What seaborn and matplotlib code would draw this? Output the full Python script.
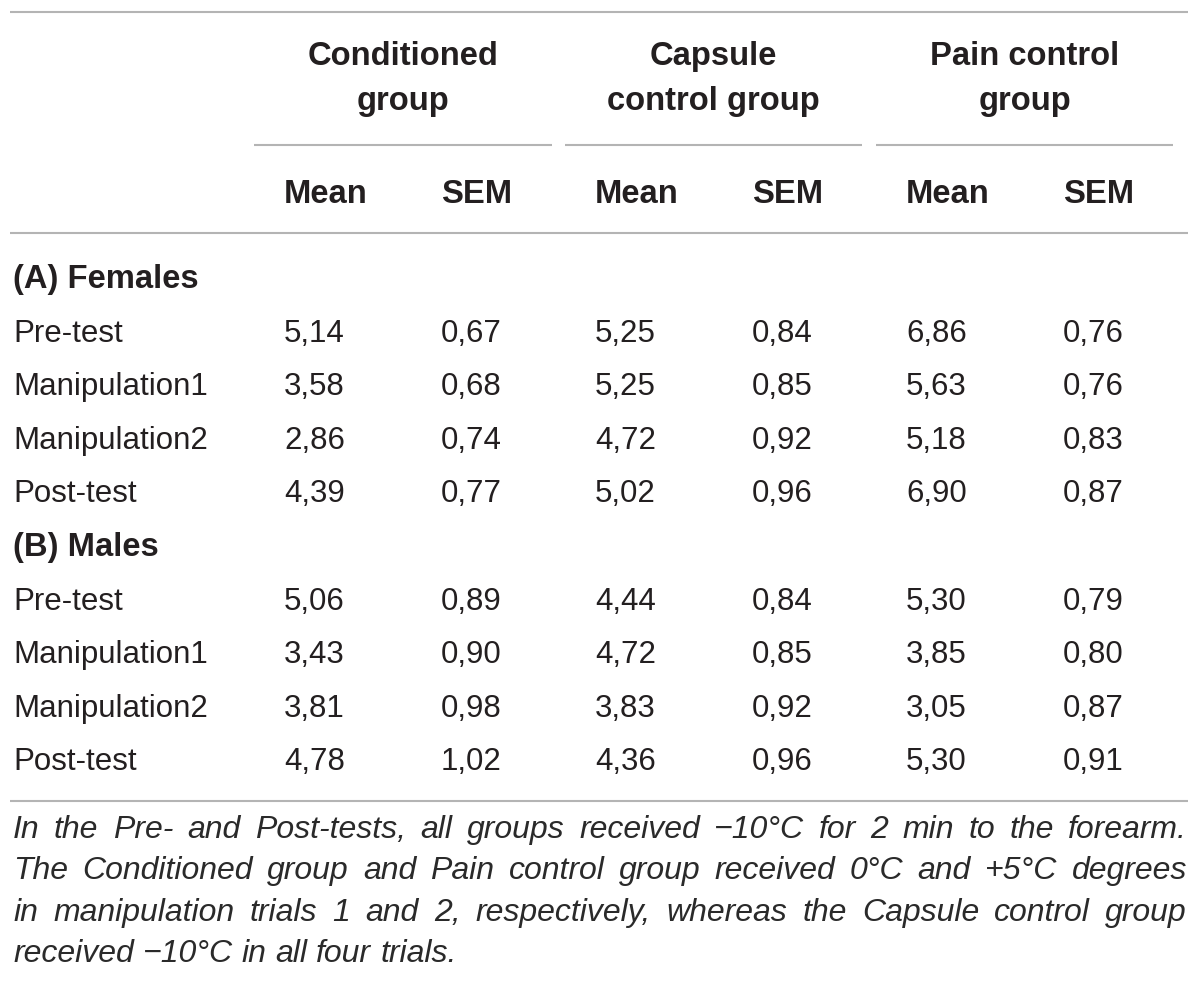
import matplotlib
matplotlib.use('Agg')
import matplotlib.pyplot as plt
import seaborn as sns

# Table content
groups = [['Conditioned', 'group'], ['Capsule', 'control group'], ['Pain control', 'group']]
sub_headers = ['Mean', 'SEM']
sections = ['(A) Females', '(B) Males']
trials = ['Pre-test', 'Manipulation1', 'Manipulation2', 'Post-test']

female_mean = [[5.14, 3.58, 2.86, 4.39],   # conditioned
               [5.25, 5.25, 4.72, 5.02],   # capsule control
               [6.86, 5.63, 5.18, 6.90]]   # pain control
female_sem = [[0.67, 0.68, 0.74, 0.77],
              [0.84, 0.85, 0.92, 0.96],
              [0.76, 0.76, 0.83, 0.87]]
male_mean = [[5.06, 3.43, 3.81, 4.78],
             [4.44, 4.72, 3.83, 4.36],
             [5.30, 3.85, 3.05, 5.30]]
male_sem = [[0.89, 0.90, 0.98, 1.02],
            [0.84, 0.85, 0.92, 0.96],
            [0.79, 0.80, 0.87, 0.91]]

footnote = ["In the Pre- and Post-tests, all groups received \u221210\u00b0C for 2 min to the forearm.",
            "The Conditioned group and Pain control group received 0\u00b0C and +5\u00b0C degrees",
            "in manipulation trials 1 and 2, respectively, whereas the Capsule control group",
            "received \u221210\u00b0C in all four trials."]

sns.set_theme(style='white')
plt.rcParams['font.family'] = ['Liberation Sans', 'DejaVu Sans']

ink = '#231f20'
rule = '#b4b4b4'
body_size = 22.5
bold_size = 23.6
note_size = 23

fig = plt.figure(figsize=(12, 9.85), dpi=100)
ax = fig.add_axes([0, 0, 1, 1])
ax.set_xlim(0, 1200)
ax.set_ylim(985, 0)
ax.axis('off')

def fmt(v):
    return f'{v:.2f}'.replace('.', ',')

# rules
ax.hlines([12, 233, 801], 10, 1188, color=rule, lw=1.5)
seg_left = [254, 565, 876]
seg_right = [552, 862, 1173]
ax.hlines([145] * 3, seg_left, seg_right, color=rule, lw=1.5)

# group headers, two lines each
for g, lo, hi in zip(groups, seg_left, seg_right):
    for line, yb in zip(g, [65, 110]):
        ax.text((lo + hi) / 2, yb, line, ha='center', va='baseline', fontsize=bold_size,
                fontweight='bold', color=ink)

col_x = [284, 441, 595, 752, 906, 1063]
for i, x in enumerate(col_x):
    ax.text(x, 203, sub_headers[i % 2], ha='left', va='baseline', fontsize=bold_size,
            fontweight='bold', color=ink)

# body rows
step = 53.6
y = 288
for sec, means, sems in zip(sections, [female_mean, male_mean], [female_sem, male_sem]):
    ax.text(13, y, sec, ha='left', va='baseline', fontsize=bold_size, fontweight='bold', color=ink)
    y += step
    for r, t in enumerate(trials):
        ax.text(13, y, t, ha='left', va='baseline', fontsize=body_size, color=ink)
        for g in range(3):
            ax.text(col_x[2 * g], y, fmt(means[g][r]), ha='left', va='baseline',
                    fontsize=body_size, color=ink)
            ax.text(col_x[2 * g + 1], y, fmt(sems[g][r]), ha='left', va='baseline',
                    fontsize=body_size, color=ink)
        y += step

# footnote, justified like the journal layout
fig.canvas.draw()
renderer = fig.canvas.get_renderer()
left, right = 13, 1187
fy = [838, 879, 921, 962]
for k, line in enumerate(footnote):
    words = line.split(' ')
    texts = [ax.text(0, fy[k], w, ha='left', va='baseline', fontsize=note_size,
                     fontstyle='italic', color='#2a2a2a') for w in words]
    widths = [t.get_window_extent(renderer).width for t in texts]
    if k < len(footnote) - 1:
        gap = (right - left - sum(widths)) / (len(words) - 1)
    else:
        space = ax.text(0, 0, 'a a', fontsize=note_size, fontstyle='italic')
        a = ax.text(0, 0, 'aa', fontsize=note_size, fontstyle='italic')
        gap = space.get_window_extent(renderer).width - a.get_window_extent(renderer).width
        space.remove()
        a.remove()
    x = left
    for t, w in zip(texts, widths):
        t.set_x(x)
        x += w + gap

fig.savefig('out.png', dpi=100)
